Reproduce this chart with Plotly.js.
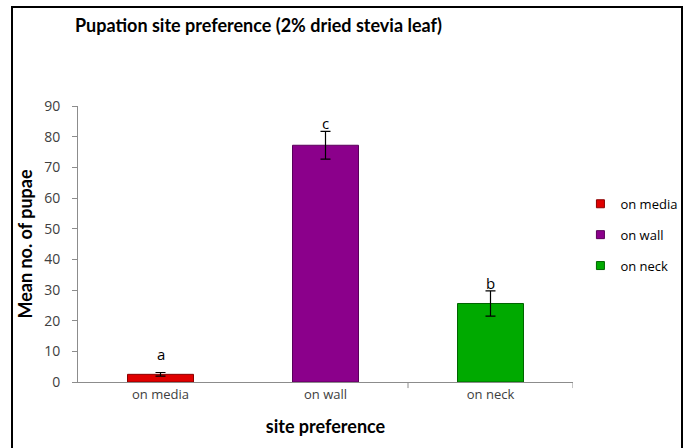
<!DOCTYPE html>
<html>
<head>
<meta charset="utf-8">
<script src="https://cdn.plot.ly/plotly-3.0.1.min.js"></script>
<style>
html,body{margin:0;padding:0;background:#fff;}
#wrap{position:relative;width:690px;height:448px;overflow:hidden;}
#chart{position:absolute;left:0;top:0;width:690px;height:448px;}
#frame{position:absolute;left:11px;top:6px;width:672px;height:460px;border:2.5px solid #000;box-sizing:border-box;pointer-events:none;}
</style>
</head>
<body>
<div id="wrap"><div id="chart"></div><div id="frame"></div></div>
<script>
const categories = ["on media", "on wall", "on neck"];
const means = [2.5, 77.2, 25.6];
const errors = [0.6, 4.5, 4.1];
const letters = ["a", "c", "b"];
const colors = ["#E00000", "#8B008B", "#00AA00"];
const edgeColors = ["#8B0000", "#5A005A", "#006400"];

const barTraces = categories.map((c, i) => ({
  type: "bar",
  name: c,
  x: [c],
  y: [means[i]],
  width: 0.4,
  marker: {color: colors[i], line: {color: edgeColors[i], width: 1}},
  error_y: {type: "data", array: [errors[i]], visible: true, color: "#000", thickness: 1.2, width: 5},
  showlegend: false
}));

const legendTraces = categories.map((c, i) => ({
  type: "scatter", mode: "markers",
  name: c, x: [null], y: [null],
  legendgroup: "g" + i,
  marker: {symbol: "square", size: 8, color: colors[i], line: {color: edgeColors[i], width: 1}},
  showlegend: true
}));

const annotations = categories.map((c, i) => ({
  x: c, y: means[i] + errors[i], xref: "x", yref: "y",
  text: letters[i], showarrow: false, yanchor: "bottom", yshift: i === 0 ? 6 : -4,
  font: {family: "Open Sans, Lato, sans-serif", size: 15, color: "#000"}
}));

const layout = {
  width: 690, height: 448,
  margin: {l: 78, r: 117, t: 106, b: 66, autoexpand: false},
  paper_bgcolor: "#fff", plot_bgcolor: "#fff",
  barmode: "overlay",
  title: {text: "<b>Pupation site preference (2% dried stevia leaf)</b>", x: 75 / 690, xref: "container", xanchor: "left",
          y: 1, yref: "container", yanchor: "top", pad: {t: 19},
          font: {family: "Lato, Open Sans, sans-serif", size: 18, color: "#000"}},
  xaxis: {
    type: "category", categoryorder: "array", categoryarray: categories,
    range: [-0.5, 2.5],
    showline: true, linecolor: "#8c8c8c", linewidth: 1,
    ticks: "", showgrid: false, zeroline: false,
    tickfont: {family: "Open Sans, Lato, sans-serif", size: 13, color: "#404040"},
    title: {text: "<b>site preference</b>", standoff: 18, font: {family: "Lato, Open Sans, sans-serif", size: 18, color: "#000"}}
  },
  yaxis: {
    range: [0, 90], dtick: 10, tick0: 0,
    showline: true, linecolor: "#8c8c8c", linewidth: 1,
    ticks: "outside", ticklen: 5, tickcolor: "#8c8c8c", ticklabelstandoff: 9,
    showgrid: false, zeroline: false,
    tickfont: {family: "Open Sans, Lato, sans-serif", size: 14, color: "#404040"},
    title: {text: "<b>Mean no. of pupae</b>", standoff: 6, font: {family: "Lato, Open Sans, sans-serif", size: 18, color: "#000"}}
  },
  legend: {x: 1.015, xanchor: "left", y: 0.70, yanchor: "top", tracegroupgap: 11, itemsizing: "trace",
           font: {family: "Open Sans, Lato, sans-serif", size: 13, color: "#000"}, itemwidth: 30},
  annotations: annotations,
  shapes: [1.5, 2.5].map(v => ({type: "line", xref: "x", yref: "paper", x0: v, x1: v, y0: 0, y1: -0.022,
                       line: {color: "#8c8c8c", width: 1}}))
};

Plotly.newPlot("chart", barTraces.concat(legendTraces), layout, {displayModeBar: false, staticPlot: true});
</script>
</body>
</html>
